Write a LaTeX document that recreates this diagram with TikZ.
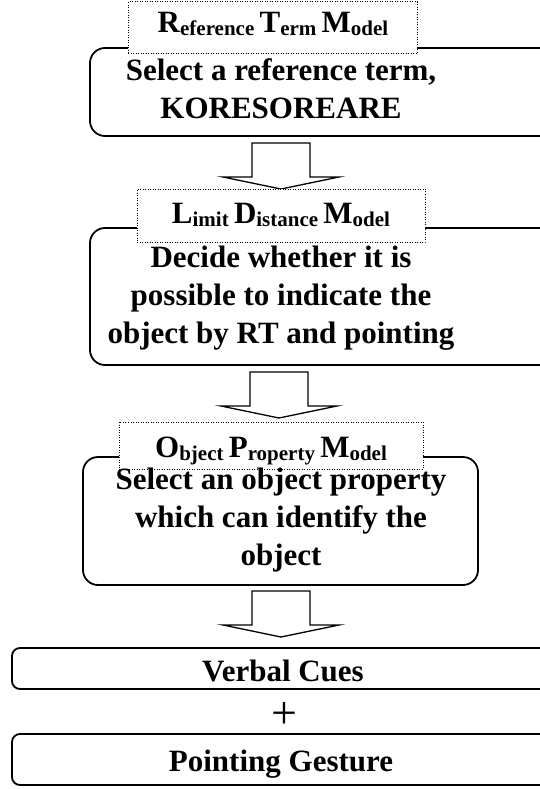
\documentclass[tikz,border=0pt]{standalone}
\usepackage{fontspec}
\setmainfont{Liberation Serif}

\tikzset{
    stepbox/.style={draw, rectangle, rounded corners=15pt, line width=1.8pt, inner sep=0pt},
    cuebox/.style={stepbox, rounded corners=8pt},
    labelbox/.style={draw, rectangle, fill=white, line width=1pt, dash pattern=on 1pt off 1.5pt, inner sep=0pt},
    labeltext/.style={anchor=base, inner sep=0pt, font=\fontsize{21}{23}\selectfont\bfseries},
    maintext/.style={align=center, inner sep=0pt, font=\fontsize{31}{38}\selectfont\bfseries},
    blockarrow/.style={draw, fill=white, line width=1.3pt, line join=miter}
}

% capital letter followed by a lowered small tail
\newcommand{\modelword}[2]{{\fontsize{31}{32}\selectfont #1}\raisebox{-3pt}{#2}}

\begin{document}
\begin{tikzpicture}[x=1pt, y=-1pt]
    \useasboundingbox (0,0) rectangle (540,789);
    \clip (0,0) rectangle (540,789);

    % Arrows
    \foreach \ax/\ay in {281/143, 279/372, 281/591} {
        \draw[blockarrow] (\ax-29,\ay) -- (\ax+29,\ay) -- (\ax+29,\ay+34) -- (\ax+58,\ay+34)
            -- (\ax,\ay+46) -- (\ax-58,\ay+34) -- (\ax-29,\ay+34) -- cycle;
    }

    % Reference term model
    \node[stepbox, minimum width=490, minimum height=88] (rtm) at (335,92) {};
    \node[labelbox, minimum width=289, minimum height=52] (rtmlabel) at (272.5,28) {};
    \node[labeltext] (rtmname) at (273,33) {\modelword{R}{eference} \modelword{T}{erm} \modelword{M}{odel}};
    \node[maintext] (rtmtext) at (281,88.5) {Select a reference term,\\KORESOREARE};

    % Limit distance model
    \node[stepbox, minimum width=490, minimum height=137] (ldm) at (335,296.5) {};
    \node[labelbox, minimum width=288, minimum height=53] (ldmlabel) at (281,215.5) {};
    \node[labeltext] (ldmname) at (281,223) {\modelword{L}{imit} \modelword{D}{istance} \modelword{M}{odel}};
    \node[maintext] (ldmtext) at (281,298) {Decide whether it is\\possible to indicate the\\object by RT and pointing};

    % Object property model
    \node[stepbox, minimum width=395, minimum height=128] (opm) at (280.5,521) {};
    \node[labelbox, minimum width=304, minimum height=47] (opmlabel) at (271,445.5) {};
    \node[labeltext] (opmname) at (271,457) {\modelword{O}{bject} \modelword{P}{roperty} \modelword{M}{odel}};
    \node[maintext] (opmtext) at (281,520.5) {Select an object property\\which can identify the\\object};

    % Output cues
    \node[cuebox, minimum width=548, minimum height=41] (verbal) at (286,668.5) {};
    \node[maintext, anchor=base] (verbaltext) at (283,681) {Verbal Cues};
    \node[inner sep=0pt, font=\fontsize{46}{48}\selectfont] (plus) at (284,715) {+};
    \node[cuebox, minimum width=548, minimum height=51] (pointing) at (286,759.5) {};
    \node[maintext, anchor=base] (pointingtext) at (281,771) {Pointing Gesture};
\end{tikzpicture}
\end{document}
